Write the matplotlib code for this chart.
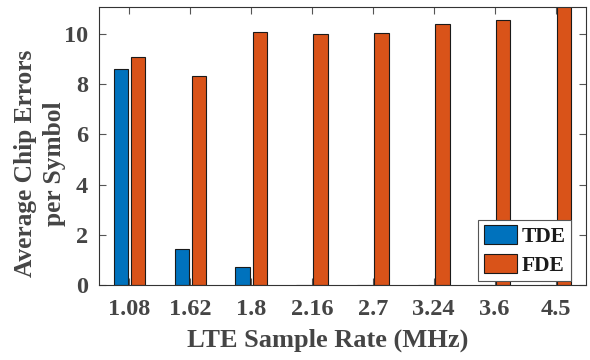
import matplotlib
matplotlib.use("Agg")
import matplotlib.pyplot as plt
import numpy as np

categories = ["1.08", "1.62", "1.8", "2.16", "2.7", "3.24", "3.6", "4.5"]
tde = [8.59, 1.42, 0.73, 0.0, 0.0, 0.0, 0.0, 0.0]
fde = [9.07, 8.31, 10.09, 10.0, 10.04, 10.39, 10.56, 11.4]
series_names = ["TDE", "FDE"]

plt.rcParams['font.family'] = ['Liberation Serif', 'DejaVu Serif']
plt.rcParams['font.weight'] = 'bold'

fig = plt.figure(figsize=(5.9, 3.6), dpi=100)
ax = fig.add_axes([0.1678, 0.2083, 0.8254, 0.7723])

x = np.arange(len(categories))
w = 0.236
off = 0.14
ax.bar(x - off, tde, w, color='#0072BD', edgecolor='#1a1a1a', linewidth=0.8, label=series_names[0])
ax.bar(x + off, fde, w, color='#D95319', edgecolor='#1a1a1a', linewidth=0.8, label=series_names[1])

ax.set_xlim(-0.5, 7.5)
ax.set_ylim(0, 11.07)
ax.set_xticks(x)
ax.set_xticklabels(categories)
ax.set_yticks([0, 2, 4, 6, 8, 10])

txtc = '#454545'
ax.tick_params(axis='both', direction='in', length=5, width=0.8, color='#555555',
               labelsize=17.5, labelcolor=txtc, top=True, right=True)
ax.tick_params(axis='x', pad=10)
ax.tick_params(axis='y', pad=8)
for lab in ax.get_xticklabels() + ax.get_yticklabels():
    lab.set_fontweight('bold')
for s in ax.spines.values():
    s.set_color('#333333')
    s.set_linewidth(0.8)

ax.set_xlabel("LTE Sample Rate (MHz)", fontsize=19, fontweight='bold', color=txtc)
ax.xaxis.set_label_coords(0.469, -0.155)
ax.set_ylabel("Average Chip Errors\nper Symbol", fontsize=18.3, fontweight='bold', color=txtc,
              linespacing=1.3)
ax.yaxis.set_label_coords(-0.068, 0.437)

leg = ax.legend(loc='lower right', bbox_to_anchor=(0.9686, 0.0144), fontsize=15.5,
                handlelength=1.55, handleheight=1.0, handletextpad=0.2, labelspacing=0.3,
                borderpad=0.25, borderaxespad=0, fancybox=False, framealpha=1,
                edgecolor='#555555')
leg.get_frame().set_linewidth(0.8)
for t in leg.get_texts():
    t.set_color('#1a1a1a')
    t.set_fontweight('bold')

fig.savefig("out.png", dpi=100)
